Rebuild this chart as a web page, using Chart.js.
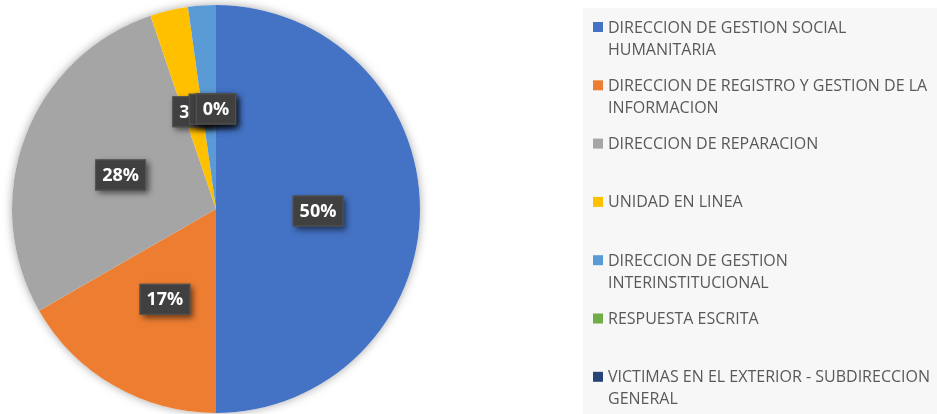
<!DOCTYPE html>
<html>
<head>
<meta charset="utf-8">
<script src="https://cdn.jsdelivr.net/npm/chart.js@4.4.1/dist/chart.umd.min.js"></script>
<style>
  html, body { margin: 0; padding: 0; background: #ffffff; }
  #grafica { display: block; }
</style>
</head>
<body>
<canvas id="grafica" width="937" height="414"></canvas>
<script>
// datos
var categorias = [
    ['DIRECCION DE GESTION SOCIAL', 'HUMANITARIA'],
    ['DIRECCION DE REGISTRO Y GESTION DE LA', 'INFORMACION'],
    ['DIRECCION DE REPARACION'],
    ['UNIDAD EN LINEA'],
    ['DIRECCION DE GESTION', 'INTERINSTITUCIONAL'],
    ['RESPUESTA ESCRITA'],
    ['VICTIMAS EN EL EXTERIOR - SUBDIRECCION', 'GENERAL']
];
var valores = [50, 16.7, 28.1, 3, 2.2, 0, 0];
var colores = ['#4472C4', '#ED7D31', '#A5A5A5', '#FFC000', '#5B9BD5', '#70AD47', '#264478'];

// sombra suave detras del circulo
var sombraPie = {
    id: 'sombraPie',
    beforeDatasetsDraw: function (chart) {
        var arco = chart.getDatasetMeta(0).data[0];
        if (!arco) return;
        var ctx = chart.ctx;
        ctx.save();
        ctx.shadowColor = 'rgba(0,0,0,0.35)';
        ctx.shadowBlur = 10;
        ctx.fillStyle = '#ffffff';
        ctx.beginPath();
        ctx.arc(arco.x, arco.y, arco.outerRadius, 0, Math.PI * 2);
        ctx.fill();
        ctx.restore();
    }
};

// etiquetas de porcentaje (cajas oscuras)
var etiquetas = {
    id: 'etiquetas',
    afterDatasetsDraw: function (chart) {
        var ctx = chart.ctx;
        var datos = chart.data.datasets[0].data;
        var total = datos.reduce(function (a, b) { return a + b; }, 0);
        var meta = chart.getDatasetMeta(0);
        ctx.save();
        ctx.font = 'bold 18px "Open Sans"';
        ctx.textAlign = 'center';
        ctx.textBaseline = 'middle';
        meta.data.forEach(function (arco, i) {
            var pos = arco.tooltipPosition();
            var texto = Math.round(datos[i] / total * 100) + '%';
            var w = ctx.measureText(texto).width + 14;
            var h = 31;
            var x = pos.x - w / 2, y = pos.y + 2 - h / 2;
            ctx.save();
            ctx.shadowColor = 'rgba(0,0,0,0.55)';
            ctx.shadowBlur = 6;
            ctx.shadowOffsetX = 3;
            ctx.shadowOffsetY = 3;
            ctx.fillStyle = '#404040';
            ctx.fillRect(x, y, w, h);
            ctx.restore();
            ctx.strokeStyle = '#555555';
            ctx.lineWidth = 1;
            ctx.strokeRect(x + 0.5, y + 0.5, w - 1, h - 1);
            ctx.fillStyle = '#ffffff';
            ctx.fillText(texto, pos.x, pos.y + 3);
        });
        ctx.restore();
    }
};

// leyenda a la derecha
var leyenda = {
    id: 'leyenda',
    afterDraw: function (chart) {
        var ctx = chart.ctx;
        ctx.save();
        ctx.fillStyle = '#f7f7f7';
        ctx.fillRect(583, 8, 937 - 583, 414 - 8);
        ctx.font = '16px "Open Sans"';
        ctx.textBaseline = 'middle';
        chart.data.labels.forEach(function (lineas, i) {
            var yc = 27 + i * 58.3;
            ctx.fillStyle = chart.data.datasets[0].backgroundColor[i];
            ctx.fillRect(593, yc - 5, 10, 10);
            ctx.fillStyle = '#595959';
            lineas.forEach(function (l, j) {
                ctx.fillText(l, 608, yc + 1 + j * 22);
            });
        });
        ctx.restore();
    }
};

var mychart = new Chart(document.getElementById('grafica'), {
    type: 'pie',
    data: {
        labels: categorias,
        datasets: [{
            data: valores,
            backgroundColor: colores,
            borderWidth: 0
        }]
    },
    options: {
        responsive: false,
        animation: false,
        layout: { padding: { left: 12, right: 517, top: 5, bottom: 1 } },
        plugins: {
            legend: { display: false },
            tooltip: { enabled: false }
        }
    },
    plugins: [sombraPie, etiquetas, leyenda]
});
</script>
</body>
</html>
